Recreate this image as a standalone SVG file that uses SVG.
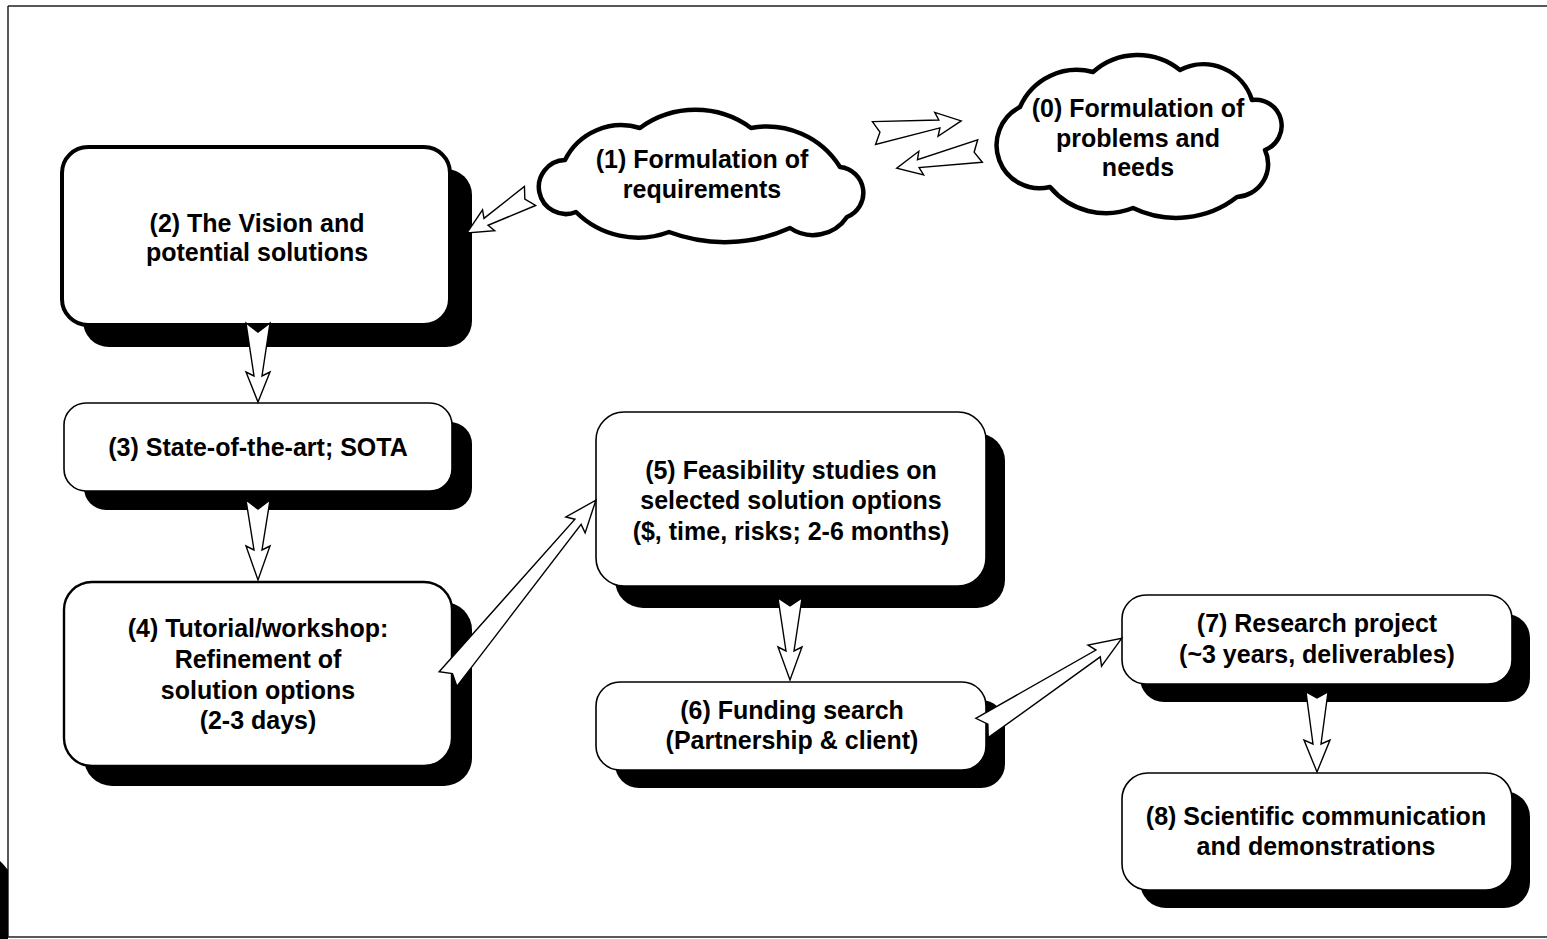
<svg xmlns="http://www.w3.org/2000/svg" width="1547" height="939" viewBox="0 0 1547 939">
<defs>
<style>
.shadow{fill:#000;stroke:none}
.box{fill:#fff;stroke:#000;stroke-width:1.6}
.thick{stroke-width:4}
.med{stroke-width:2.4}
.cloud{fill:#fff;stroke:#000;stroke-width:4.5;stroke-linejoin:round}
.arrow{fill:#fff;stroke:#000;stroke-width:1.4;stroke-linejoin:miter}
.lbl{font-family:"Liberation Sans",Arial,sans-serif;font-weight:bold;font-size:25px;fill:#000;text-anchor:middle}
.frame{stroke:#222;stroke-width:1.5;fill:none}
</style>
</defs>
<rect width="1547" height="939" fill="#fff"/>
<g id="frame">
<path class="frame" d="M8,6 H1547 M8,6 V937 M8,937 H1547"/>
<polygon points="0,861 3,864 8,870 8,939 0,939" fill="#000"/>
</g>

<g id="node0">
<path class="cloud" d="M1020,107 A62,62 0 0 1 1093,72 A67,67 0 0 1 1180,70 A51,51 0 0 1 1252,100 A26,26 0 0 1 1265,150 A33,33 0 0 1 1237,197 A99,99 0 0 1 1133,208 A73,73 0 0 1 1050,187 A43,43 0 0 1 1020,107 Z"/>
<text class="lbl" x="1138" y="117">(0) Formulation of</text>
<text class="lbl" x="1138" y="147">problems and</text>
<text class="lbl" x="1138" y="176">needs</text>
</g>

<g id="node1">
<path class="cloud" d="M565,160 A63,63 0 0 1 640,128 A94,94 0 0 1 751,128 A86,86 0 0 1 840,167 A26,26 0 0 1 847,217 A41,41 0 0 1 790,228 A158,158 0 0 1 669,232 A88,88 0 0 1 576,212 A27,27 0 1 1 565,160 Z"/>
<text class="lbl" x="702" y="168">(1) Formulation of</text>
<text class="lbl" x="702" y="198">requirements</text>
</g>

<g id="node2">
<rect class="shadow" x="83" y="169" width="389" height="178" rx="26"/>
<rect class="box thick" x="62" y="147" width="388" height="178" rx="26"/>
<text class="lbl" x="257" y="232">(2) The Vision and</text>
<text class="lbl" x="257" y="261">potential solutions</text>
</g>

<g id="node3">
<rect class="shadow" x="84" y="422" width="388" height="88" rx="22"/>
<rect class="box" x="64" y="403" width="388" height="88" rx="22"/>
<text class="lbl" x="258" y="456">(3) State-of-the-art; SOTA</text>
</g>

<g id="node4">
<rect class="shadow" x="84" y="602" width="388" height="184" rx="28"/>
<rect class="box med" x="64" y="582" width="388" height="184" rx="28"/>
<text class="lbl" x="258" y="637">(4) Tutorial/workshop:</text>
<text class="lbl" x="258" y="668">Refinement of</text>
<text class="lbl" x="258" y="699">solution options</text>
<text class="lbl" x="258" y="729">(2-3 days)</text>
</g>

<g id="node5">
<rect class="shadow" x="615" y="433" width="390" height="175" rx="28"/>
<rect class="box" x="596" y="412" width="390" height="174" rx="28"/>
<text class="lbl" x="791" y="479">(5) Feasibility studies on</text>
<text class="lbl" x="791" y="509">selected solution options</text>
<text class="lbl" x="791" y="540">($, time, risks; 2-6 months)</text>
</g>

<g id="node6">
<rect class="shadow" x="615" y="700" width="390" height="88" rx="24"/>
<rect class="box" x="596" y="682" width="390" height="88" rx="24"/>
<text class="lbl" x="792" y="719">(6) Funding search</text>
<text class="lbl" x="792" y="749">(Partnership &amp; client)</text>
</g>

<g id="node7">
<rect class="shadow" x="1140" y="614" width="390" height="88" rx="24"/>
<rect class="box" x="1122" y="595" width="390" height="89" rx="24"/>
<text class="lbl" x="1317" y="632">(7) Research project</text>
<text class="lbl" x="1317" y="663">(~3 years, deliverables)</text>
</g>

<g id="node8">
<rect class="shadow" x="1140" y="791" width="390" height="117" rx="26"/>
<rect class="box" x="1122" y="773" width="390" height="117" rx="26"/>
<text class="lbl" x="1316" y="825">(8) Scientific communication</text>
<text class="lbl" x="1316" y="855">and demonstrations</text>
</g>

<g id="connectors">
<!-- 1 -> 0 -->
<path class="arrow" transform="translate(874,133) rotate(-7.9)" d="M0,-11.5 L66,-4 L63,-12 L88,0 L63,12 L66,4 L0,11.5 L6,0 Z"/>
<!-- 0 -> 1 -->
<path class="arrow" transform="translate(980,151) rotate(168.4)" d="M0,-11.5 L63,-4 L60,-12 L85,0 L60,12 L63,4 L0,11.5 L6,0 Z"/>
<!-- 1 -> 2 -->
<path class="arrow" transform="translate(530,196) rotate(149.6)" d="M0,-11 L51,-4 L48,-12 L73,0 L48,12 L51,4 L0,11 L6,0 Z"/>
<!-- 2 -> 3 -->
<path class="arrow" transform="translate(258,323) rotate(90)" d="M0,-12 L53,-4 L49,-12 L79,0 L49,12 L53,4 L0,12 L9,0 Z"/>
<!-- 3 -> 4 -->
<path class="arrow" transform="translate(258,500) rotate(90)" d="M0,-12 L50,-4 L46,-12 L80,0 L46,12 L50,4 L0,12 L9,0 Z"/>
<!-- 4 -> 5 -->
<path class="arrow" transform="translate(448,679) rotate(-50.4)" d="M0,-11.5 L204,-4 L200,-12.5 L232,0 L200,12.5 L204,4 L0,11.5 L7,0 Z"/>
<!-- 5 -> 6 -->
<path class="arrow" transform="translate(790,598) rotate(90)" d="M0,-12 L53,-4 L49,-12 L82,0 L49,12 L53,4 L0,12 L8,0 Z"/>
<!-- 6 -> 7 -->
<path class="arrow" transform="translate(982,728) rotate(-32.7)" d="M0,-11.5 L138,-4 L134,-12.5 L166,0 L134,12.5 L138,4 L0,11.5 L7,0 Z"/>
<!-- 7 -> 8 -->
<path class="arrow" transform="translate(1317,692) rotate(90)" d="M0,-11 L52,-4 L48,-13 L80,0 L48,13 L52,4 L0,11 L6,0 Z"/>
</g>
</svg>
